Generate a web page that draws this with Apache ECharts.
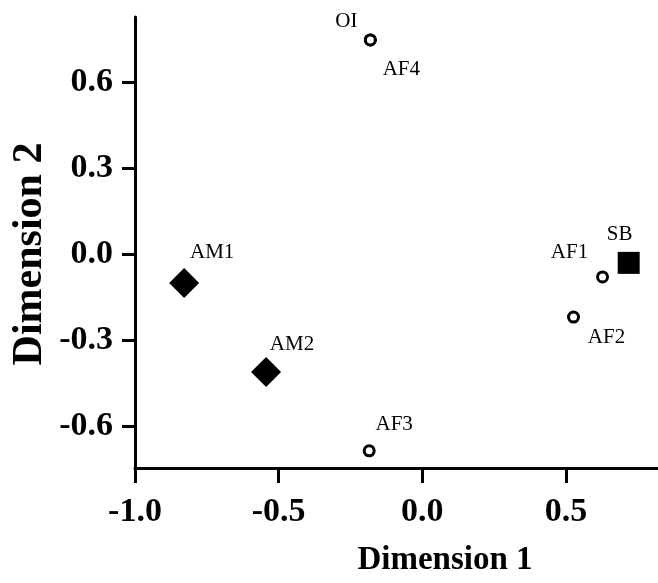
<!DOCTYPE html>
<html>
<head>
<meta charset="utf-8">
<script src="https://cdn.jsdelivr.net/npm/echarts@6/dist/echarts.min.js"></script>
<style>
html,body{margin:0;padding:0;background:#fff;}
#chart{width:658px;height:583px;}
</style>
</head>
<body>
<div id="chart"></div>
<script>
// ---- data ----
const pointNames = ['OI', 'AF4', 'AM1', 'AM2', 'AF3', 'AF1', 'AF2', 'SB'];
const dim1Values = [-0.181, -0.181, -0.829, -0.544, -0.185, 0.627, 0.526, 0.718];
const dim2Values = [0.746, 0.746, -0.101, -0.411, -0.686, -0.080, -0.220, -0.031];
const pointGroups = ['circle', 'circle', 'diamond', 'diamond', 'circle', 'circle', 'circle', 'square'];
const xTicks = [-1.0, -0.5, 0.0, 0.5];
const yTicks = [-0.6, -0.3, 0.0, 0.3, 0.6];
const xTitle = 'Dimension 1';
const yTitle = 'Dimension 2';

// ---- layout / style ----
const labelOffsets = {
  OI: [-24, -18], AF4: [31, 30], AM1: [28, -30], AM2: [26, -27],
  AF3: [25, -26], AF1: [-33, -24], AF2: [33, 20], SB: [-9, -28]
};
const serif = '"Liberation Serif", "DejaVu Serif", serif';

function buildData(group) {
  const out = [];
  pointNames.forEach((n, i) => {
    if (pointGroups[i] !== group) return;
    out.push({
      name: n,
      value: [dim1Values[i], dim2Values[i]],
      label: {
        show: true, position: 'inside', offset: labelOffsets[n],
        formatter: n, fontFamily: serif, fontSize: 21, color: '#000'
      }
    });
  });
  return out;
}

const chart = echarts.init(document.getElementById('chart'));
chart.setOption({
  animation: false,
  backgroundColor: '#fff',
  grid: { left: 135, top: 17, right: 0, bottom: 115, containLabel: false },
  xAxis: {
    type: 'value', min: -1.0, max: 0.82,
    splitLine: { show: false },
    axisLine: { show: true, onZero: false, lineStyle: { color: '#000', width: 3 } },
    axisTick: { show: true, length: 15, inside: false, customValues: xTicks, lineStyle: { color: '#000', width: 3 } },
    axisLabel: {
      customValues: xTicks, margin: 27,
      formatter: v => v.toFixed(1),
      fontFamily: serif, fontWeight: 'bold', fontSize: 34, color: '#000'
    }
  },
  yAxis: {
    type: 'value', min: -0.746, max: 0.826,
    splitLine: { show: false },
    axisLine: { show: true, onZero: false, lineStyle: { color: '#000', width: 3 } },
    axisTick: { show: true, length: 13, inside: false, customValues: yTicks, lineStyle: { color: '#000', width: 3 } },
    axisLabel: {
      customValues: yTicks, margin: 22,
      formatter: v => v.toFixed(1),
      fontFamily: serif, fontWeight: 'bold', fontSize: 34, color: '#000'
    }
  },
  series: [
    {
      type: 'scatter', name: 'circle', symbol: 'circle', symbolSize: 10,
      itemStyle: { color: '#fff', borderColor: '#000', borderWidth: 3, opacity: 1 },
      data: buildData('circle')
    },
    {
      type: 'scatter', name: 'diamond', symbol: 'diamond', symbolSize: 30,
      itemStyle: { color: '#000', opacity: 1 },
      data: buildData('diamond')
    },
    {
      type: 'scatter', name: 'square', symbol: 'rect', symbolSize: 22,
      itemStyle: { color: '#000', opacity: 1 },
      data: buildData('square')
    }
  ],
  graphic: [
    {
      type: 'text', x: 445, y: 560,
      style: { text: xTitle, font: 'bold 33px ' + serif, fill: '#000', align: 'center', verticalAlign: 'middle' }
    },
    {
      type: 'text', x: 30, y: 254, rotation: Math.PI / 2,
      style: { text: yTitle, font: 'bold 42px ' + serif, fill: '#000', align: 'center', verticalAlign: 'middle' }
    }
  ]
});
</script>
</body>
</html>
